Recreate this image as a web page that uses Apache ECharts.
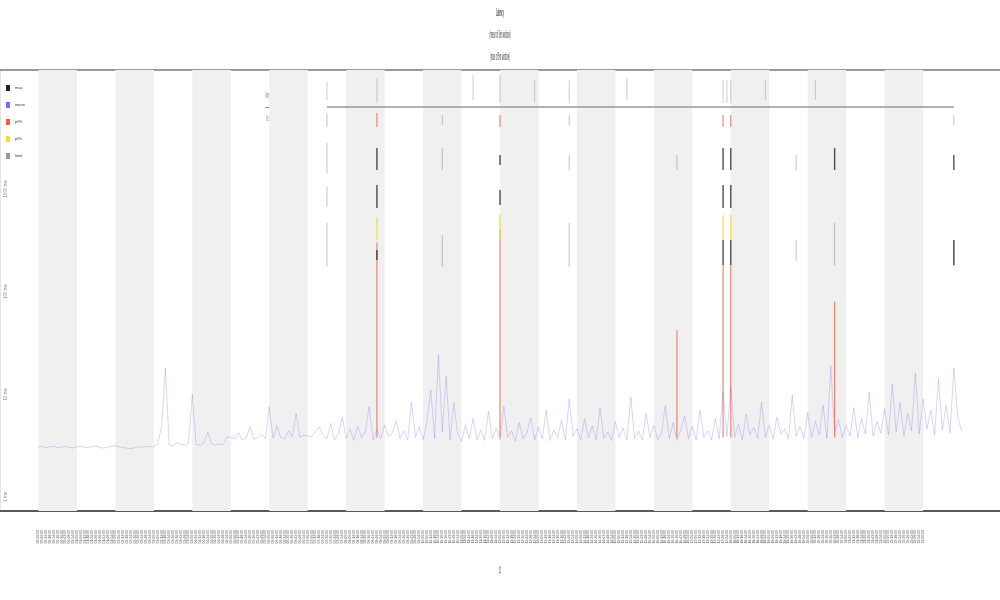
<!DOCTYPE html>
<html>
<head>
<meta charset="utf-8">
<script src="https://cdn.jsdelivr.net/npm/echarts@6/dist/echarts.min.js"></script>
<style>
html, body { margin: 0; padding: 0; background: #fff; }
#chart { width: 1000px; height: 600px; }
</style>
</head>
<body>
<div id="chart"></div>
<script>
// tick labels: one category per 6 minutes, first sample sits at category 10
const timeLabels = [];
for (let i = 0; i <= 260; i++) {
    const mins = (((i - 10) * 6) % 1440 + 1440) % 1440;
    const hh = String(Math.floor(mins / 60)).padStart(2, '0');
    const mm = String(mins % 60).padStart(2, '0');
    timeLabels.push(hh + ':' + mm + ':00');
}
const firstSample = 10;
const lastLabel = 240;
const yTicks = [1, 10, 100, 1000];

// mean latency (ms), one value per category from firstSample on
const meanValues = [
    3.05, 3.1, 3.02, 3.08, 3.12, 3.03, 3.06, 3.1, 3.04, 3.0,
    3.07, 3.11, 3.03, 3.05, 3.09, 3.14, 3.02, 3.0, 3.06, 3.1,
    3.15, 3.08, 3.04, 2.98, 2.96, 3.02, 3.08, 3.05, 3.12, 3.07,
    3.1, 3.3, 4.8, 18, 3.2, 3.15, 3.4, 3.25, 3.2, 3.3,
    10, 3.25, 3.2, 3.35, 4.3, 3.3, 3.2, 3.28, 3.22, 3.85,
    3.8, 3.7, 4.2, 3.6, 3.75, 4.8, 3.65, 3.8, 4.1, 3.7,
    7.5, 3.75, 4.9, 3.8, 3.7, 4.4, 3.85, 6.5, 3.8, 4.0,
    3.9, 3.85, 4.3, 4.8, 4.0, 3.7, 5.2, 3.6, 4.1, 6.0,
    3.7, 4.6, 3.55, 4.9, 3.8, 4.3, 7.6, 3.6, 4.6, 3.7,
    5.0, 3.9, 4.2, 5.5, 3.7, 4.4, 3.6, 8.4, 3.8, 4.8,
    3.6, 5.4, 11, 3.7, 24, 4.3, 15, 3.6, 8.2, 4.1,
    3.5, 5.0, 3.7, 5.8, 3.6, 4.5, 3.55, 6.8, 3.7, 4.7,
    3.6, 7.6, 3.8, 4.4, 3.5, 5.3, 3.7, 4.2, 5.9, 3.6,
    4.8, 3.7, 7.0, 3.55, 4.5, 3.8, 5.6, 3.6, 9.0, 3.9,
    4.6, 3.6, 5.8, 3.75, 4.9, 3.6, 7.4, 3.7, 4.3, 3.55,
    5.4, 3.8, 4.7, 3.6, 9.4, 3.7, 4.4, 3.6, 6.5, 3.8,
    5.0, 3.6, 4.2, 7.8, 3.7, 5.3, 3.55, 4.5, 6.1, 3.7,
    4.9, 3.6, 7.0, 3.8, 4.4, 3.6, 5.8, 3.7, 10.5, 3.9,
    12, 3.8, 5.1, 3.6, 6.4, 4.0, 4.8, 3.7, 8.4, 3.8,
    5.0, 3.65, 6.0, 4.1, 4.6, 3.7, 9.8, 3.9, 4.9, 3.7,
    6.6, 3.8, 5.5, 4.0, 7.8, 3.7, 19, 4.2, 5.7, 3.8,
    5.0, 3.9, 7.4, 3.75, 5.8, 4.1, 10.5, 3.9, 5.4, 4.2,
    7.2, 4.0, 12.5, 4.3, 8.2, 3.9, 6.5, 4.4, 16, 4.1,
    9.0, 4.6, 7.0, 4.0, 14, 4.5, 7.8, 4.2, 18, 6.0,
    4.4
];

// shaded hour bands (category index ranges)
const bands = [[10, 20], [30, 40], [50, 60], [70, 80], [90, 100], [110, 120],
    [130, 140], [150, 160], [170, 180], [190, 200], [210, 220], [230, 240]];

// vertical ranges [category, low ms, high ms]
const maxRanges = [
    [98, 1527, 2500], [98, 651, 1091], [98, 203, 254],
    [130, 1710, 2140], [130, 697, 975],
    [188, 1527, 2500], [188, 651, 1091], [188, 182, 318],
    [190, 1527, 2500], [190, 651, 1091], [190, 182, 318],
    [217, 1527, 2500], [248, 1527, 2140], [248, 182, 318]
];
const p99Ranges = [
    [98, 4005, 5480], [130, 4005, 5245], [188, 4005, 5245], [190, 4005, 5245],
    [98, 3.8, 300], [130, 3.8, 400], [188, 3.8, 182], [190, 3.8, 182],
    [176, 3.8, 42], [217, 3.8, 80]
];
const p95Ranges = [[98, 318, 532], [130, 318, 557], [188, 318, 557], [190, 318, 557]];
const otherRanges = [
    [85, 4005, 5480], [85, 1428, 2800], [85, 667, 1043], [85, 174, 466],
    [115, 4190, 5245], [115, 1527, 2500], [115, 174, 356],
    [148, 4190, 5245], [148, 1527, 2140], [148, 174, 466],
    [176, 1527, 2140], [207, 1527, 2140], [207, 200, 318],
    [217, 180, 466], [248, 4190, 5245], [248, 174, 318]
];
const limitTicks = [
    [98, 6860, 12000], [123, 7340, 12850], [130, 6860, 12850], [139, 6860, 11480],
    [148, 6860, 11480], [163, 7340, 12000], [188, 6860, 11480], [189, 6860, 11480],
    [190, 6860, 11480], [199, 7340, 11480], [212, 7340, 11480], [85, 7340, 11000]
];
const limitLine = [[85, 6270], [248, 6270]];

function rangeSeries(name, data, color, width, opacity) {
    return {
        name: name,
        type: 'custom',
        data: data,
        encode: { x: 0, y: [1, 2] },
        itemStyle: { color: color },
        z: 4,
        renderItem: function (params, api) {
            const a = api.coord([api.value(0), api.value(1)]);
            const b = api.coord([api.value(0), api.value(2)]);
            return {
                type: 'line',
                shape: { x1: a[0], y1: a[1], x2: b[0], y2: b[1] },
                style: { stroke: api.visual('color'), lineWidth: width, opacity: opacity }
            };
        }
    };
}

const myChart = echarts.init(document.getElementById('chart'));
const option = {
    animation: false,
    backgroundColor: '#fff',
    graphic: [
        { type: 'text', x: 500, y: 13, scaleX: 0.18, style: { text: 'Latency', fontSize: 11, fontWeight: 'bold', fill: '#333', align: 'center', verticalAlign: 'middle' } },
        { type: 'text', x: 500, y: 35, scaleX: 0.22, style: { text: '(mean of 5m window)', fontSize: 10, fill: '#333', align: 'center', verticalAlign: 'middle' } },
        { type: 'text', x: 500, y: 57, scaleX: 0.22, style: { text: '(max of 5m window)', fontSize: 10, fill: '#333', align: 'center', verticalAlign: 'middle' } },
        { type: 'text', x: 268, y: 96, scaleX: 0.3, style: { text: 'limit', fontSize: 9, fill: '#777', align: 'center', verticalAlign: 'middle' } },
        { type: 'text', x: 269, y: 107, style: { text: '—', fontSize: 8, fill: '#222', align: 'center', verticalAlign: 'middle' } },
        { type: 'text', x: 268, y: 119, scaleX: 0.3, style: { text: '6 s', fontSize: 9, fill: '#777', align: 'center', verticalAlign: 'middle' } }
    ],
    legend: {
        data: [
            { name: 'max', icon: 'rect' },
            { name: 'mean', icon: 'rect' },
            { name: 'p99', icon: 'rect' },
            { name: 'p95', icon: 'rect' },
            { name: 'limit', icon: 'rect' }
        ],
        orient: 'vertical',
        left: 1,
        top: 80,
        itemWidth: 4,
        itemHeight: 6,
        itemGap: 11,
        textStyle: { fontSize: 4, color: '#333' }
    },
    grid: { left: 0, right: 0, top: 70, bottom: 89, containLabel: false, outerBoundsMode: 'none' },
    xAxis: [
        {
            type: 'category',
            data: timeLabels,
            boundaryGap: false,
            position: 'bottom',
            axisLine: { lineStyle: { color: '#222', width: 1.5 } },
            axisTick: { show: false },
            axisLabel: {
                interval: 0,
                rotate: 90,
                fontSize: 3.5,
                color: '#555',
                margin: 19,
                formatter: (v, i) => (i >= firstSample && i <= lastLabel ? v : '')
            },
            splitLine: { show: false },
            name: 'time',
            nameLocation: 'middle',
            nameGap: 55,
            nameRotate: 90,
            nameTextStyle: { fontSize: 4, color: '#555' }
        },
        {
            type: 'category',
            data: timeLabels,
            boundaryGap: false,
            position: 'top',
            axisLine: { lineStyle: { color: '#999', width: 2 } },
            axisTick: { show: false },
            axisLabel: { show: false },
            splitLine: { show: false }
        }
    ],
    yAxis: {
        type: 'log',
        logBase: 10,
        min: 0.73,
        max: 14400,
        axisLine: { show: true, lineStyle: { color: '#e4e4e4' } },
        axisTick: { show: false },
        splitLine: { show: false },
        axisLabel: {
            inside: true,
            rotate: 90,
            margin: 3,
            fontSize: 4.5,
            color: '#888',
            formatter: v => (yTicks.indexOf(v) >= 0 ? v + ' ms' : '')
        },
        name: 'response time (ms)',
        nameLocation: 'middle',
        nameGap: -6,
        nameRotate: 90,
        nameTextStyle: { fontSize: 4.5, color: '#888' }
    },
    series: [
        {
            name: 'mean',
            type: 'line',
            data: meanValues.map((v, i) => [i + firstSample, v]),
            showSymbol: false,
            z: 3,
            itemStyle: { color: '#7070f0' },
            lineStyle: { color: 'rgba(100,100,240,0.45)', width: 0.6 },
            markArea: {
                silent: true,
                itemStyle: { color: '#f0f0f0' },
                data: bands.map(b => [{ xAxis: b[0] }, { xAxis: b[1] }])
            }
        },
        rangeSeries('other', otherRanges, '#888', 1, 0.5),
        rangeSeries('p99', p99Ranges, '#ee6040', 1.2, 0.75),
        rangeSeries('p95', p95Ranges, '#e8e040', 1.4, 0.85),
        rangeSeries('max', maxRanges, '#222', 1.4, 0.8),
        rangeSeries('ticks', limitTicks, '#aaa', 1, 0.6),
        {
            name: 'limit',
            type: 'line',
            data: limitLine,
            showSymbol: false,
            z: 3,
            itemStyle: { color: '#999' },
            lineStyle: { color: '#999', width: 1.5 }
        }
    ]
};
myChart.setOption(option);
</script>
</body>
</html>
